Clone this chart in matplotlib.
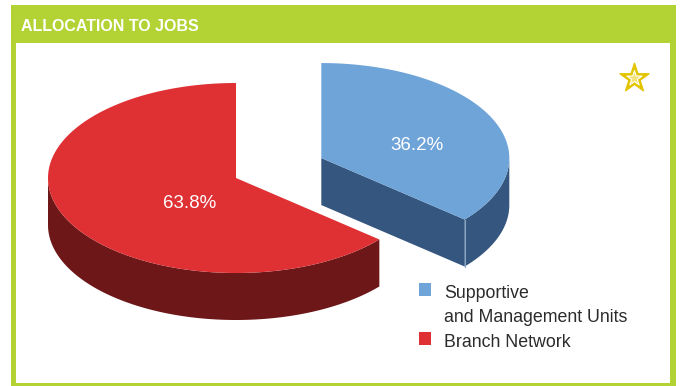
import numpy as np
import matplotlib.pyplot as plt
from matplotlib.patches import Polygon, Rectangle

# Job allocation shares (percent)
labels = ["Supportive\nand Management Units", "Branch Network"]
shares = [36.2, 63.8]
pct_text = ["36.2%", "63.8%"]

top_colors = ["#6fa4d9", "#df3034"]
side_colors = ["#34567f", "#6e1719"]
GREEN = "#b3d334"
FONT = ["Liberation Sans", "DejaVu Sans"]

# pie geometry in pixel space
CX, CY = 236, 178
RX, RY = 188, 95
DEPTH = 47
explode = [0.5, 0.0]
label_xy = [(417, 145), (190, 204)]


def ell(cx, cy, th):
    return cx + RX * np.cos(th), cy - RY * np.sin(th)


def draw_slice(ax, t0, t1, cx, cy, top, side):
    # side faces first, then top surface
    th = np.linspace(t0, t1, 200)
    # visible outer rim is the front half (sin < 0)
    lo, hi = max(t0, np.pi), min(t1, 2 * np.pi)
    if lo < hi:
        rim = np.linspace(lo, hi, 150)
        xs, ys = ell(cx, cy, rim)
        pts = np.column_stack([np.r_[xs, xs[::-1]], np.r_[ys, ys[::-1] + DEPTH]])
        ax.add_patch(Polygon(pts, closed=True, fc=side, ec="none", zorder=2))
    # radial face at the start angle is seen when it points down-left
    if np.cos(t0) > 0 and np.sin(t0) < 0:
        ex, ey = ell(cx, cy, t0)
        pts = [(cx, cy), (ex, ey), (ex, ey + DEPTH), (cx, cy + DEPTH)]
        ax.add_patch(Polygon(pts, closed=True, fc=side, ec="none", zorder=2))
        ax.plot([ex, ex], [ey, ey + DEPTH], color="#8aa4c4", lw=0.8, zorder=3)
    xs, ys = ell(cx, cy, th)
    pts = np.column_stack([np.r_[cx, xs], np.r_[cy, ys]])
    ax.add_patch(Polygon(pts, closed=True, fc=top, ec="none", zorder=4))


fig = plt.figure(figsize=(6.83, 3.86), dpi=100)
ax = fig.add_axes([0, 0, 1, 1])
ax.set_xlim(0, 683)
ax.set_ylim(386, 0)
ax.axis("off")

# frame with green header
ax.add_patch(Rectangle((11, 5), 665, 381, fc=GREEN, ec="none", zorder=0))
ax.add_patch(Rectangle((16, 43), 654, 340, fc="white", ec="none", zorder=1))
ax.text(21, 31, "ALLOCATION TO JOBS", color="white", fontsize=11.5,
        fontweight="bold", family=FONT, ha="left", va="baseline", zorder=5)

# slices: blue runs clockwise from 12 o'clock, red fills the rest
total = sum(shares)
angles = []
a = np.pi / 2
for s in shares:
    sweep = 2 * np.pi * s / total
    t0, t1 = a - sweep, a
    if t0 < 0:
        t0, t1 = t0 + 2 * np.pi, t1 + 2 * np.pi
    angles.append((t0, t1))
    a -= sweep

for i in [1, 0]:
    t0, t1 = angles[i]
    mid = (t0 + t1) / 2
    cx = CX + explode[i] * RX * np.cos(mid)
    cy = CY - explode[i] * RY * np.sin(mid)
    draw_slice(ax, t0, t1, cx, cy, top_colors[i], side_colors[i])
    ax.text(*label_xy[i], pct_text[i], color="white", fontsize=13.5,
            family=FONT, ha="center", va="center", zorder=6)

# legend: one swatch per entry, wrapped lines placed 24 px apart
leg_base = [298, 347]
for i, lab in enumerate(labels):
    ax.add_patch(Rectangle((419, leg_base[i] - 15), 12, 13, fc=top_colors[i],
                           ec="none", zorder=5))
    for k, line in enumerate(lab.split("\n")):
        ax.text(444, leg_base[i] + 24 * k, line, color="#2b2b2b", fontsize=12.8,
                family=FONT, ha="left", va="baseline", zorder=5)

# little star badge
ax.scatter([634], [78], marker="*", s=480, c="#e2c500", zorder=5)
ax.scatter([634], [78], marker="*", s=130, c="#f4e27a", edgecolors="white",
           linewidths=0.8, zorder=6)

fig.savefig("out.png", dpi=100)
